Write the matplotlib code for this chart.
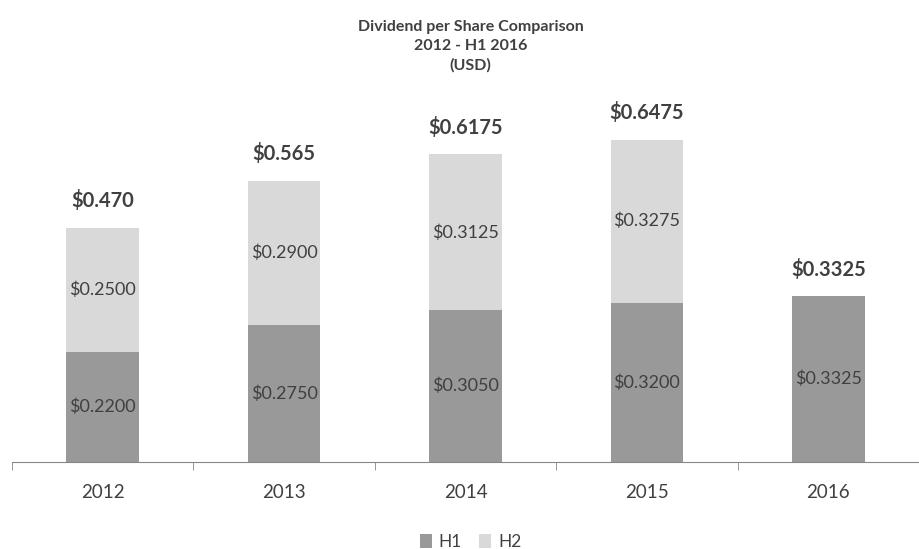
import matplotlib
matplotlib.use("Agg")
import matplotlib.pyplot as plt
import numpy as np

plt.rcParams['font.family'] = ['Lato', 'DejaVu Sans']

years = ["2012", "2013", "2014", "2015", "2016"]
h1 = [0.2200, 0.2750, 0.3050, 0.3200, 0.3325]
h2 = [0.2500, 0.2900, 0.3125, 0.3275, 0.0]
totals = ["$0.470", "$0.565", "$0.6175", "$0.6475", "$0.3325"]
h1_labels = ["$0.2200", "$0.2750", "$0.3050", "$0.3200", "$0.3325"]
h2_labels = ["$0.2500", "$0.2900", "$0.3125", "$0.3275", ""]

c_h1 = "#999999"
c_h2 = "#d9d9d9"
txt = "#404040"

fig = plt.figure(figsize=(9.19, 5.49), dpi=100)
ax = fig.add_axes([12/919, (549-462)/549, 907/919, 398.4/549])

x = np.arange(len(years))
w = 0.4
b1 = ax.bar(x, h1, w, color=c_h1, label="H1", zorder=2)
b2 = ax.bar(x, h2, w, bottom=h1, color=c_h2, label="H2", zorder=2)

for i in range(len(years)):
    ax.text(x[i], h1[i] / 2, h1_labels[i], ha="center", va="center",
            fontsize=13, color=txt)
    if h2[i] > 0:
        ax.text(x[i], h1[i] + h2[i] / 2, h2_labels[i], ha="center", va="center",
                fontsize=13, color=txt)
    ax.annotate(totals[i], (x[i], h1[i] + h2[i]), xytext=(0, 12),
                textcoords="offset points", ha="center", va="bottom",
                fontsize=14.5, fontweight="bold", color=txt)

ax.set_xlim(-0.5, 4.45)
ax.set_ylim(0, 0.8)
ax.set_yticks([])
for s in ["top", "right", "left"]:
    ax.spines[s].set_visible(False)
ax.spines["bottom"].set_color("#868686")
ax.set_xticks(x)
ax.set_xticklabels(years, fontsize=13.5, color=txt)
ax.tick_params(axis="x", length=0, pad=16)
ax.set_xticks(np.arange(-0.5, 4.6, 1), minor=True)
ax.tick_params(axis="x", which="minor", length=6, color="#868686", direction="out")

fig.text(0.512, 0.964, "Dividend per Share Comparison\n2012 - H1 2016\n(USD)",
         ha="center", va="top", fontsize=11.5, fontweight="bold", color=txt,
         linespacing=1.45)

fig.legend(handles=[b1, b2], labels=["H1", "H2"], loc="lower center",
           bbox_to_anchor=(0.512, -0.03), ncol=2, frameon=False, fontsize=12.5,
           handlelength=0.7, handleheight=0.9, handletextpad=0.4, columnspacing=1.0,
           labelcolor=txt)

fig.savefig("out.png", dpi=100)
